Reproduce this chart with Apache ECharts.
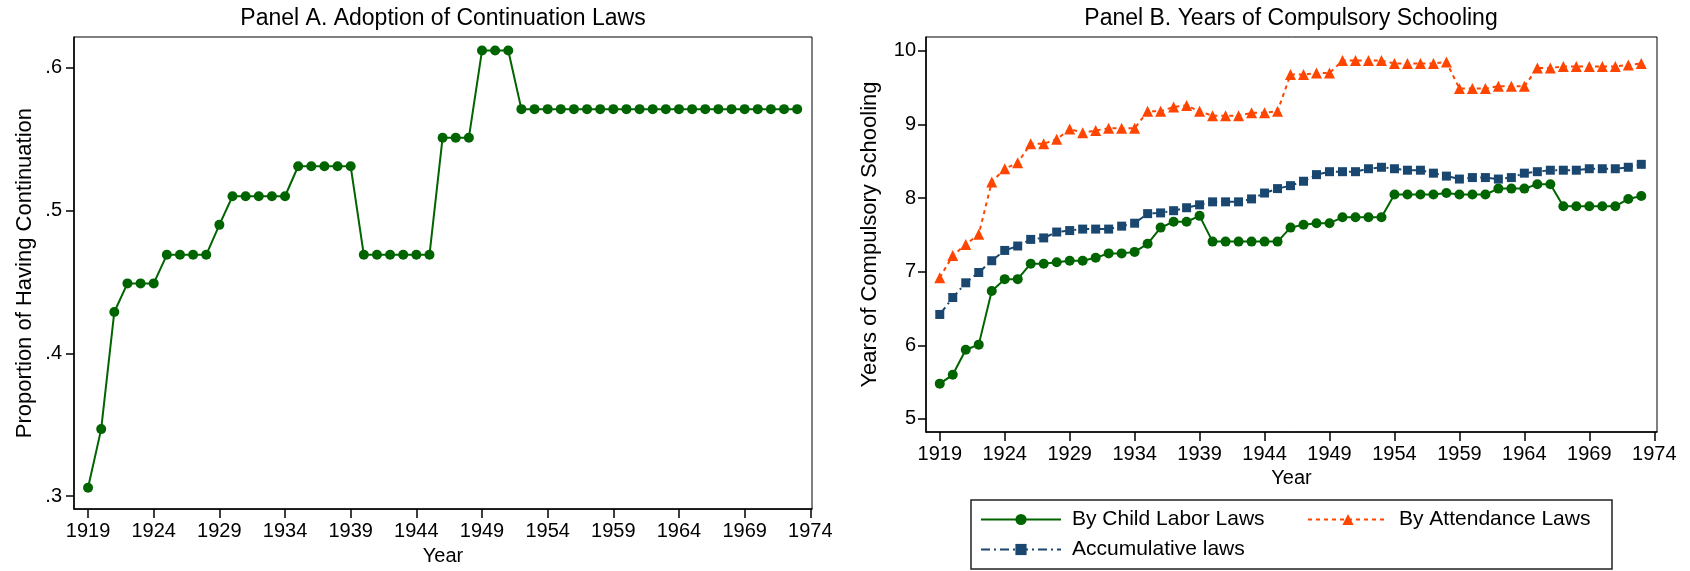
<!DOCTYPE html>
<html>
<head>
<meta charset="utf-8">
<title>Continuation laws and compulsory schooling</title>
<script src="https://cdn.jsdelivr.net/npm/echarts@6.0.0/dist/echarts.min.js"></script>
<style>
  html, body { margin: 0; padding: 0; background: #fff; }
  #chart { width: 1690px; height: 571px; }
</style>
</head>
<body>
<div id="chart"></div>
<script>
// ---- data ----
const years = [1919, 1920, 1921, 1922, 1923, 1924, 1925, 1926, 1927, 1928,
  1929, 1930, 1931, 1932, 1933, 1934, 1935, 1936, 1937, 1938,
  1939, 1940, 1941, 1942, 1943, 1944, 1945, 1946, 1947, 1948,
  1949, 1950, 1951, 1952, 1953, 1954, 1955, 1956, 1957, 1958,
  1959, 1960, 1961, 1962, 1963, 1964, 1965, 1966, 1967, 1968,
  1969, 1970, 1971, 1972, 1973];

const yearTicks = [1919, 1924, 1929, 1934, 1939, 1944, 1949, 1954, 1959, 1964, 1969, 1974];
const shareTicks = [0.3, 0.4, 0.5, 0.6];
const schoolingTicks = [5, 6, 7, 8, 9, 10];

// Panel A
const continuationShare = [0.306, 0.347, 0.429, 0.449, 0.449, 0.449, 0.469, 0.469, 0.469, 0.469,
  0.490, 0.510, 0.510, 0.510, 0.510, 0.510, 0.531, 0.531, 0.531, 0.531,
  0.531, 0.469, 0.469, 0.469, 0.469, 0.469, 0.469, 0.551, 0.551, 0.551,
  0.612, 0.612, 0.612, 0.571, 0.571, 0.571, 0.571, 0.571, 0.571, 0.571,
  0.571, 0.571, 0.571, 0.571, 0.571, 0.571, 0.571, 0.571, 0.571, 0.571,
  0.571, 0.571, 0.571, 0.571, 0.571];

// Panel B
const childLaborYears = [5.48, 5.60, 5.94, 6.01, 6.74, 6.90, 6.90, 7.11, 7.11, 7.13,
  7.15, 7.15, 7.19, 7.25, 7.25, 7.27, 7.38, 7.60, 7.68, 7.68,
  7.76, 7.41, 7.41, 7.41, 7.41, 7.41, 7.41, 7.60, 7.64, 7.66,
  7.66, 7.74, 7.74, 7.74, 7.74, 8.05, 8.05, 8.05, 8.05, 8.07,
  8.05, 8.05, 8.05, 8.13, 8.13, 8.13, 8.19, 8.19, 7.89, 7.89,
  7.89, 7.89, 7.89, 7.99, 8.03];

const attendanceYears = [6.92, 7.22, 7.37, 7.51, 8.22, 8.40, 8.48, 8.74, 8.74, 8.80,
  8.94, 8.89, 8.92, 8.95, 8.95, 8.95, 9.18, 9.18, 9.24, 9.26,
  9.18, 9.12, 9.12, 9.12, 9.16, 9.16, 9.18, 9.68, 9.68, 9.70,
  9.70, 9.87, 9.87, 9.87, 9.87, 9.83, 9.83, 9.83, 9.83, 9.85,
  9.49, 9.49, 9.49, 9.52, 9.52, 9.52, 9.77, 9.77, 9.79, 9.79,
  9.79, 9.79, 9.79, 9.81, 9.83];

const accumulativeYears = [6.42, 6.65, 6.85, 6.99, 7.15, 7.29, 7.35, 7.44, 7.46, 7.54,
  7.56, 7.58, 7.58, 7.58, 7.62, 7.66, 7.79, 7.80, 7.83, 7.87,
  7.91, 7.95, 7.95, 7.95, 7.99, 8.07, 8.13, 8.17, 8.23, 8.32,
  8.36, 8.36, 8.36, 8.40, 8.42, 8.40, 8.38, 8.38, 8.34, 8.30,
  8.26, 8.28, 8.28, 8.26, 8.28, 8.34, 8.36, 8.38, 8.38, 8.38,
  8.40, 8.40, 8.40, 8.42, 8.46];

// ---- styling ----
const FONT = '"Liberation Sans", Arial, Helvetica, sans-serif';
const GREEN = '#006400';
const ORANGE = '#ff4500';
const NAVY = '#1a476f';

const pairs = (vals) => vals.map((v, i) => [years[i], v]);

function yearAxis(gridIndex, min, max, nameGap) {
  return {
    type: 'value',
    gridIndex,
    min,
    max,
    name: 'Year',
    nameLocation: 'middle',
    nameGap,
    nameTextStyle: { fontFamily: FONT, fontSize: 20, color: '#000' },
    axisLine: { show: true, onZero: false, lineStyle: { color: '#000', width: 1.5 } },
    axisTick: { show: true, inside: false, length: 9, customValues: yearTicks, lineStyle: { color: '#000', width: 1.5 } },
    axisLabel: { customValues: yearTicks, margin: 12, fontFamily: FONT, fontSize: 20, color: '#000', formatter: (v) => String(v) },
    splitLine: { show: false }
  };
}

function valueAxis(gridIndex, min, max, ticks, name, nameGap, margin, fmt) {
  return {
    type: 'value',
    gridIndex,
    min,
    max,
    name,
    nameLocation: 'middle',
    nameGap,
    nameTextStyle: { fontFamily: FONT, fontSize: 22, color: '#000' },
    axisLine: { show: true, onZero: false, lineStyle: { color: '#000', width: 1.5 } },
    axisTick: { show: true, inside: false, length: 8, customValues: ticks, lineStyle: { color: '#000', width: 1.5 } },
    axisLabel: { customValues: ticks, margin, fontFamily: FONT, fontSize: 20, color: '#000', formatter: fmt },
    splitLine: { show: false }
  };
}

const legendBase = {
  orient: 'horizontal',
  padding: 0,
  itemWidth: 80,
  itemHeight: 14,
  selectedMode: false,
  textStyle: { fontFamily: FONT, fontSize: 21, color: '#000', padding: [0, 0, 0, 6] }
};

const chart = echarts.init(document.getElementById('chart'), null, { renderer: 'canvas' });

const option = {
  backgroundColor: '#fff',
  animation: false,
  grid: [
    { left: 74, top: 37, width: 738, height: 479, show: true, borderColor: '#000', borderWidth: 1, backgroundColor: '#fff' },
    { left: 926, top: 37, width: 731, height: 395, show: true, borderColor: '#000', borderWidth: 1, backgroundColor: '#fff' }
  ],
  graphic: [
    { type: 'text', x: 443, y: 7, style: { text: 'Panel A. Adoption of Continuation Laws', font: '23px ' + FONT, fill: '#000', align: 'center', verticalAlign: 'top' } },
    { type: 'text', x: 1291, y: 7, style: { text: 'Panel B. Years of Compulsory Schooling', font: '23px ' + FONT, fill: '#000', align: 'center', verticalAlign: 'top' } },
    { type: 'rect', shape: { x: 971, y: 500, width: 641, height: 69 }, style: { fill: 'none', stroke: '#222', lineWidth: 1.5 } }
  ],
  legend: [
    { ...legendBase, data: ['By Child Labor Laws'], left: 980, top: 509 },
    { ...legendBase, data: ['By Attendance Laws'], left: 1307, top: 509 },
    { ...legendBase, data: ['Accumulative laws'], left: 980, top: 539 }
  ],
  xAxis: [
    yearAxis(0, 1917.93, 1974.13, 34),
    yearAxis(1, 1917.94, 1974.21, 33)
  ],
  yAxis: [
    valueAxis(0, 0.291, 0.6215, shareTicks, 'Proportion of Having Continuation', 38, 12,
      (v) => String(v).replace(/^0/, '')),
    valueAxis(1, 4.823, 10.19, schoolingTicks, 'Years of Compulsory Schooling', 45, 10,
      (v) => String(v))
  ],
  series: [
    {
      name: 'Proportion of Having Continuation',
      type: 'line',
      xAxisIndex: 0,
      yAxisIndex: 0,
      data: pairs(continuationShare),
      symbol: 'circle',
      symbolSize: 10,
      itemStyle: { color: GREEN },
      lineStyle: { color: GREEN, width: 2 }
    },
    {
      name: 'By Child Labor Laws',
      type: 'line',
      xAxisIndex: 1,
      yAxisIndex: 1,
      data: pairs(childLaborYears),
      symbol: 'circle',
      symbolSize: 10,
      itemStyle: { color: GREEN },
      lineStyle: { color: GREEN, width: 2 }
    },
    {
      name: 'By Attendance Laws',
      type: 'line',
      xAxisIndex: 1,
      yAxisIndex: 1,
      data: pairs(attendanceYears),
      symbol: 'triangle',
      symbolSize: 11,
      itemStyle: { color: ORANGE },
      lineStyle: { color: ORANGE, width: 2, type: [4, 4] }
    },
    {
      name: 'Accumulative laws',
      type: 'line',
      xAxisIndex: 1,
      yAxisIndex: 1,
      data: pairs(accumulativeYears),
      symbol: 'rect',
      symbolSize: 9,
      itemStyle: { color: NAVY },
      lineStyle: { color: NAVY, width: 2, type: [9, 4, 2, 4] }
    }
  ]
};

chart.setOption(option);
</script>
</body>
</html>
